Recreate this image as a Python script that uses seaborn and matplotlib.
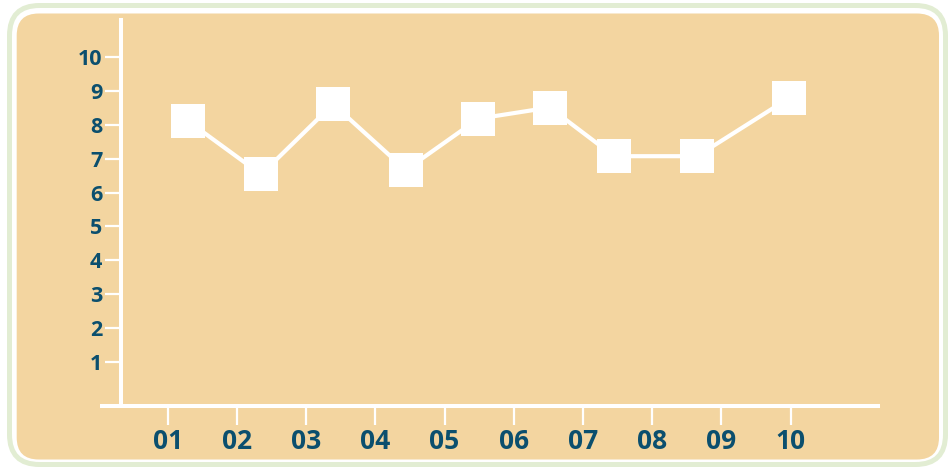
import matplotlib
matplotlib.use("Agg")
import matplotlib.pyplot as plt
from matplotlib.patches import FancyBboxPatch
from matplotlib.transforms import IdentityTransform
import seaborn as sns
import pandas as pd

# Series values
x_pos = [1.30, 2.35, 3.39, 4.44, 5.49, 6.52, 7.45, 8.65, 9.98]
y_vals = [8.11, 6.54, 8.62, 6.67, 8.19, 8.52, 7.08, 7.08, 8.80]

# Axis ticks and labels
x_ticks = [1, 2, 3, 4, 5, 6, 7, 8, 9, 10]
x_labels = ["01", "02", "03", "04", "05", "06", "07", "08", "09", "10"]
y_ticks = [1, 2, 3, 4, 5, 6, 7, 8, 9, 10]
y_labels = ["1", "2", "3", "4", "5", "6", "7", "8", "9", "10"]

BEIGE = "#f3d5a0"
GREEN = "#e2edd3"
TEXT = "#0b4f6e"
W, H = 951, 468

sns.set_style("white")
plt.rcParams["font.family"] = ["Open Sans", "DejaVu Sans"]

fig = plt.figure(figsize=(W / 100, H / 100), dpi=100)
fig.patch.set_facecolor("white")

# Rounded panel with a pale green outline, kept behind the axes
outer = FancyBboxPatch((9.5, H - 464.5), 936, 459,
                       boxstyle="round,pad=0,rounding_size=30",
                       transform=IdentityTransform(), facecolor="white",
                       edgecolor=GREEN, linewidth=3.6, zorder=-3)
inner = FancyBboxPatch((16.7, H - 459.5), 922.3, 446,
                       boxstyle="round,pad=0,rounding_size=22",
                       transform=IdentityTransform(), facecolor=BEIGE,
                       edgecolor="none", zorder=-2)
fig.patches.extend([outer, inner])

ax = fig.add_axes([102 / W, (H - 406) / H, 776 / W, 386 / H])
ax.patch.set_alpha(0)

df = pd.DataFrame({"x": x_pos, "y": y_vals})
sns.lineplot(data=df, x="x", y="y", ax=ax, sort=False, color="white",
             linewidth=3.0, marker="s", markersize=24.5,
             markeredgewidth=0, markerfacecolor="white", zorder=3)

ax.set_xlim(0.0506, 11.264)
ax.set_ylim(-0.311, 11.109)

for side in ["top", "right"]:
    ax.spines[side].set_visible(False)
for side in ["left", "bottom"]:
    ax.spines[side].set_color("white")
    ax.spines[side].set_linewidth(2.9)
ax.spines["left"].set_position(("data", 0.325))

ax.set_xticks(x_ticks)
ax.set_xticklabels(x_labels)
ax.set_yticks(y_ticks)
ax.set_yticklabels(y_labels)
ax.tick_params(axis="x", bottom=True, direction="out", length=13.7,
               width=1.6, color="white", pad=2, labelsize=19,
               labelcolor=TEXT)
ax.tick_params(axis="y", left=True, direction="out", length=11.5,
               width=1.6, color="white", pad=2, labelsize=15.5,
               labelcolor=TEXT)
for lab in ax.get_xticklabels() + ax.get_yticklabels():
    lab.set_fontweight("bold")

ax.set_xlabel("")
ax.set_ylabel("")
ax.grid(False)

fig.savefig("out.png", dpi=100, facecolor=fig.get_facecolor())
